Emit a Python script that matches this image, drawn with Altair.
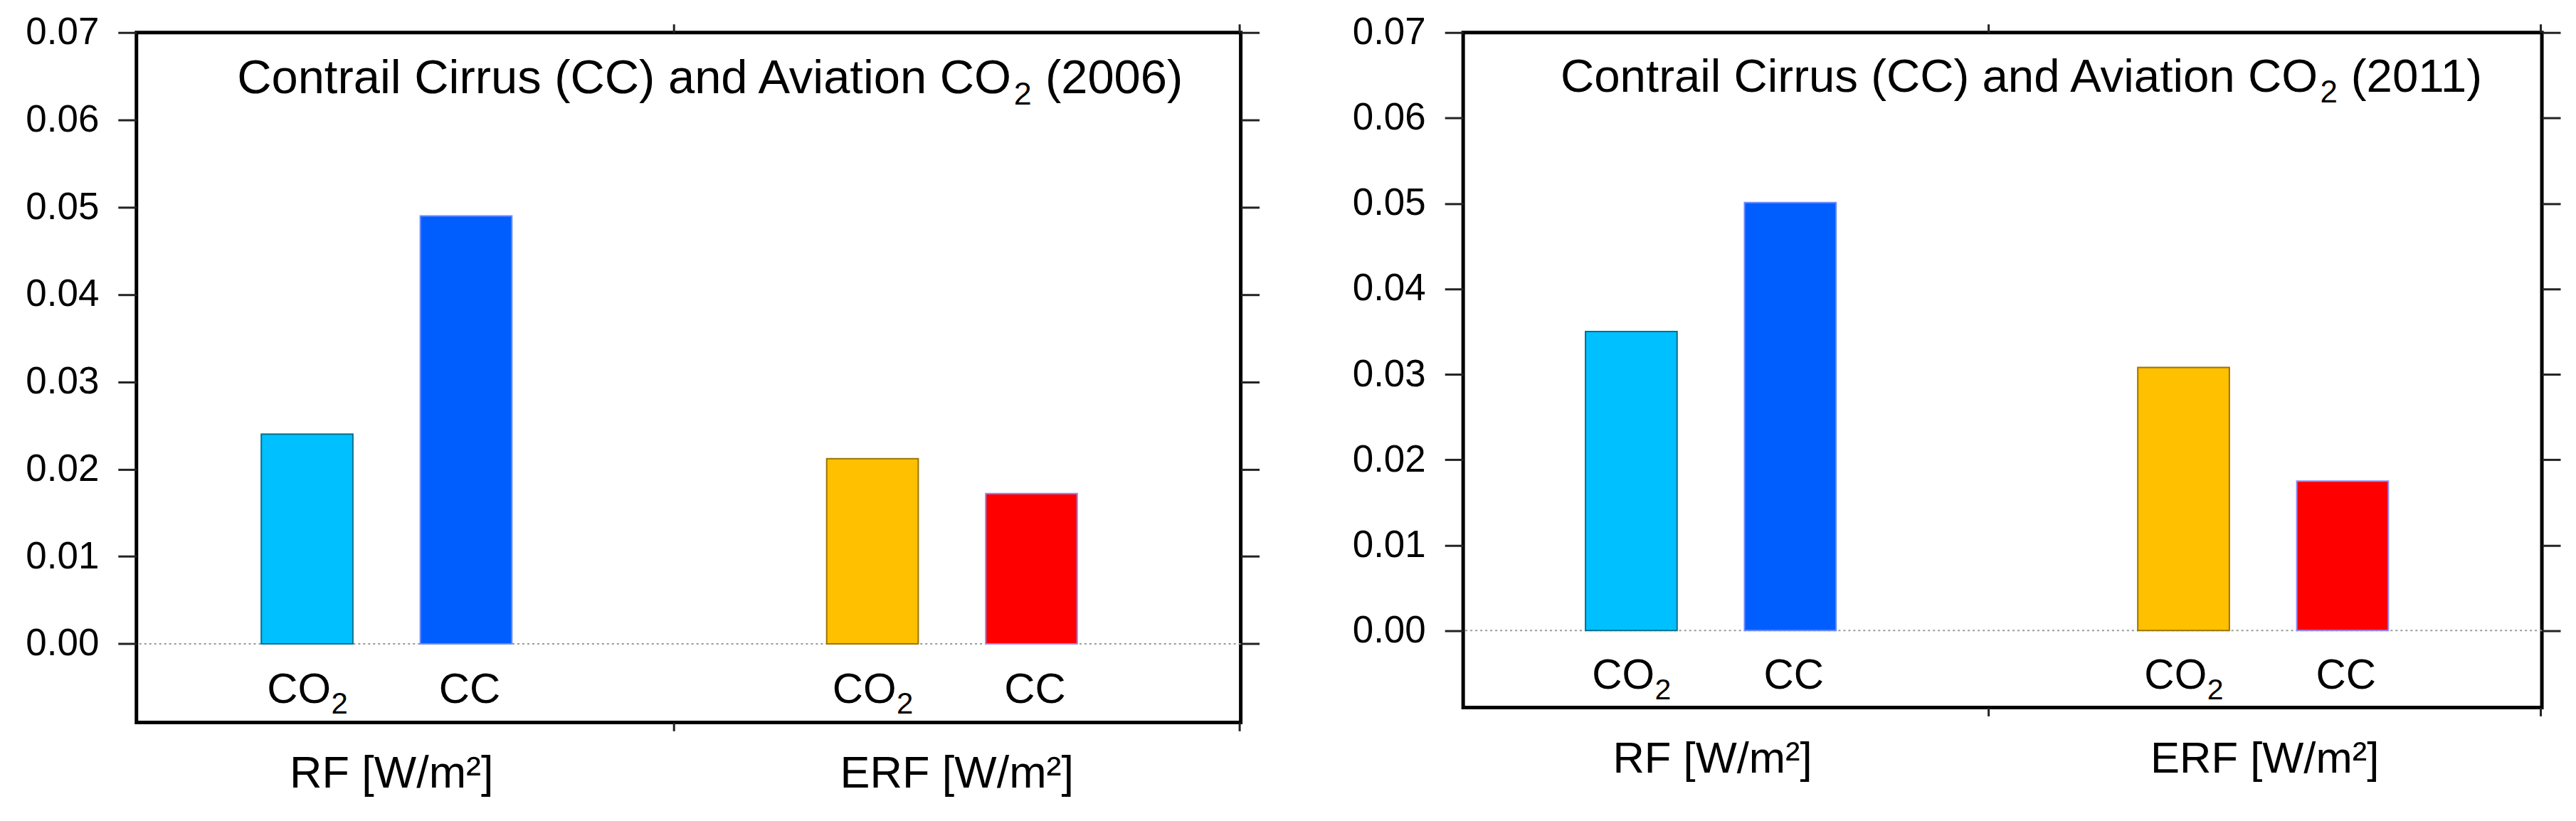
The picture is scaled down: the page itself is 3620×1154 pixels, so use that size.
import altair as alt
import pandas as pd

FONT = "Liberation Sans"

# ---- data ----
years = ["2006", "2011"]
groups = ["RF [W/m²]", "ERF [W/m²]"]
species = ["CO2", "CC"]
rf_2006 = [0.024, 0.049]
erf_2006 = [0.0212, 0.0172]
rf_2011 = [0.035, 0.0501]
erf_2011 = [0.0308, 0.0175]
y_ticks = [0.00, 0.01, 0.02, 0.03, 0.04, 0.05, 0.06, 0.07]
fill_colors = ["#00C0FF", "#005EFF", "#FFC000", "#FF0000"]
stroke_colors = ["#00708C", "#6A8CFF", "#9A7400", "#8C8CFF"]
title_main = "Contrail Cirrus (CC) and Aviation CO"


def panel(year, rf, erf, W, H, k):
    df = pd.DataFrame({
        "group": [groups[0]] * 2 + [groups[1]] * 2,
        "species": species * 2,
        "value": rf + erf,
    })
    df["key"] = df["group"] + "|" + df["species"]
    keys = list(df["key"])

    yscale = alt.Scale(domain=[-0.009, 0.07], nice=False, zero=False)
    xscale = alt.Scale(paddingInner=0.5, paddingOuter=0.2266, align=0.4246)
    xo = alt.XOffset("species:N", sort=species,
                     scale=alt.Scale(paddingInner=0.424, paddingOuter=0.101))

    base = alt.Chart(df)

    zero = alt.Chart(pd.DataFrame({"zero": [0.0]})).mark_rule(
        strokeDash=[3, 4], color="#9a9a9a", strokeWidth=2
    ).encode(
        y=alt.Y("zero:Q", scale=yscale,
                axis=alt.Axis(orient="right", labels=False, domain=False, grid=False,
                              tickSize=26, tickWidth=3, tickColor="#222",
                              values=y_ticks, title=None))
    )

    bars = base.mark_bar(strokeWidth=2).encode(
        x=alt.X("group:N", sort=groups, scale=xscale,
                axis=alt.Axis(orient="bottom", title=None, domain=False, ticks=True,
                              tickSize=12, tickWidth=3, tickColor="#222",
                              bandPosition=1.518, labelOffset=7,
                              labelAngle=0, labelFont=FONT, labelFontSize=63 * k,
                              labelColor="black", labelPadding=79,
                              labelBaseline="alphabetic", labelFlush=False,
                              labelOverlap=False, labelLimit=1000, grid=False)),
        xOffset=xo,
        y=alt.Y("value:Q", scale=yscale,
                axis=alt.Axis(orient="left", values=y_ticks, format=".2f", domain=False,
                              tickSize=26, tickWidth=3, tickColor="#222",
                              labelFontSize=53, labelFont=FONT, labelColor="black",
                              labelPadding=27, grid=False, title=None)),
        color=alt.Color("key:N", scale=alt.Scale(domain=keys, range=fill_colors), legend=None),
        stroke=alt.Stroke("key:N", scale=alt.Scale(domain=keys, range=stroke_colors), legend=None),
    )

    lab_y = alt.YDatum(-0.0068, scale=yscale, axis=None)

    co_lbl = base.transform_filter(alt.datum.species == "CO2").mark_text(
        text="CO", align="center", baseline="alphabetic", dx=-11.5 * k,
        font=FONT, fontSize=60 * k, color="black"
    ).encode(
        x=alt.X("group:N", sort=groups, scale=xscale,
                axis=alt.Axis(orient="top", labels=False, title=None, domain=False,
                              tickSize=12, tickWidth=3, tickColor="#222",
                              bandPosition=1.518, grid=False)),
        xOffset=xo,
        y=lab_y,
    )

    sub_lbl = base.transform_filter(alt.datum.species == "CO2").mark_text(
        text="2", align="left", baseline="alphabetic", dx=34 * k, dy=15 * k,
        font=FONT, fontSize=42 * k, color="black"
    ).encode(
        x=alt.X("group:N", sort=groups, scale=xscale, axis=None),
        xOffset=xo,
        y=lab_y,
    )

    cc_lbl = base.transform_filter(alt.datum.species == "CC").mark_text(
        text="CC", align="center", baseline="alphabetic", dx=5 * k,
        font=FONT, fontSize=60 * k, color="black"
    ).encode(
        x=alt.X("group:N", sort=groups, scale=xscale, axis=None),
        xOffset=xo,
        y=lab_y,
    )

    tdf = pd.DataFrame({"main": [title_main], "sub": ["2"], "yr": ["(" + year + ")"]})
    tbase = alt.Chart(tdf)
    t1 = tbase.mark_text(align="right", baseline="alphabetic", font=FONT,
                         fontSize=67 * k, color="black").encode(
        text="main:N", x=alt.value(0.7922 * W), y=alt.value(85 * k))
    t2 = tbase.mark_text(align="left", baseline="alphabetic", font=FONT,
                         fontSize=45 * k, color="black").encode(
        text="sub:N", x=alt.value(0.7945 * W), y=alt.value(101 * k))
    t3 = tbase.mark_text(align="left", baseline="alphabetic", font=FONT,
                         fontSize=67 * k, color="black").encode(
        text="yr:N", x=alt.value(0.823 * W), y=alt.value(85 * k))

    return alt.layer(zero, bars, co_lbl, sub_lbl, cc_lbl, t1, t2, t3).resolve_axis(
        x="independent", y="independent"
    ).properties(width=W, height=H)


left = panel(years[0], rf_2006, erf_2006, 1554, 971, 1.0)
right = panel(years[1], rf_2011, erf_2011, 1518, 950, 0.978)

chart = alt.hconcat(left, right, spacing=124).properties(
    padding={"left": 25, "top": 8, "right": 10, "bottom": 4},
    background="white",
).configure_view(stroke="black", strokeWidth=5)

chart.save("out.html", embed_options={"renderer": "svg", "actions": False})
